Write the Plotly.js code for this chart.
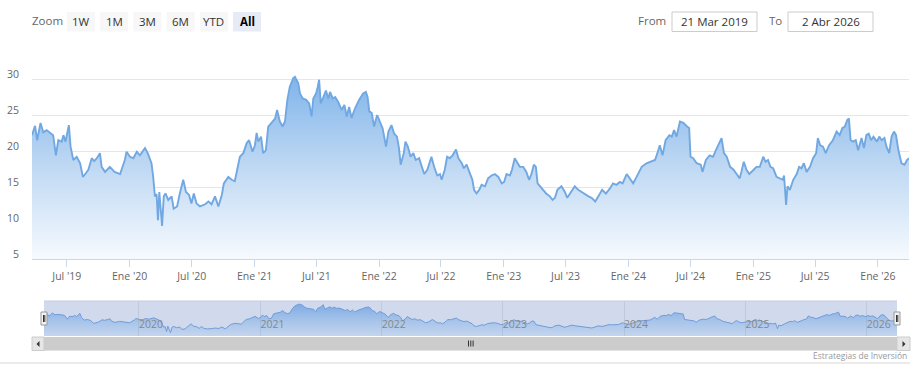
<!DOCTYPE html>
<html><head><meta charset="utf-8">
<script src="https://cdn.plot.ly/plotly-3.0.1.min.js"></script>
<style>html,body{margin:0;padding:0;background:#fff;}#chart{width:920px;height:379px;}</style>
</head><body><div id="chart"></div>
<script>
const dates = [
"2019-03-21","2019-03-30","2019-04-05","2019-04-15","2019-04-23","2019-05-03","2019-05-22","2019-05-30","2019-06-06","2019-06-16","2019-06-21","2019-06-27","2019-07-07","2019-07-12","2019-07-20","2019-07-30","2019-08-09","2019-08-17","2019-08-24","2019-09-02","2019-09-12","2019-09-19","2019-09-27","2019-10-06","2019-10-11","2019-10-21","2019-11-04","2019-11-18","2019-12-04","2019-12-18","2019-12-23",
"2020-01-02","2020-01-12","2020-01-22","2020-01-31","2020-02-15","2020-02-23","2020-02-29","2020-03-05","2020-03-10","2020-03-15","2020-03-20","2020-03-24","2020-03-28","2020-04-01","2020-04-05","2020-04-10","2020-04-15","2020-04-23","2020-05-03","2020-05-09","2020-05-19","2020-05-27","2020-06-06","2020-06-14","2020-06-23","2020-06-30","2020-07-07","2020-07-15","2020-07-25","2020-08-09","2020-08-19","2020-08-28","2020-09-07","2020-09-17","2020-09-27","2020-10-03","2020-10-16","2020-10-26","2020-11-04","2020-11-11","2020-11-19","2020-11-29","2020-12-09","2020-12-16","2020-12-26",
"2021-01-02","2021-01-07","2021-01-12","2021-01-20","2021-01-26","2021-02-03","2021-02-10","2021-02-20","2021-03-02","2021-03-08","2021-03-16","2021-03-24","2021-03-31","2021-04-07","2021-04-14","2021-04-24","2021-04-29","2021-05-09","2021-05-14","2021-05-22","2021-06-01","2021-06-10","2021-06-17","2021-06-22","2021-06-30","2021-07-05","2021-07-09","2021-07-14","2021-07-21","2021-07-29","2021-08-05","2021-08-10","2021-08-18","2021-08-25","2021-09-03","2021-09-13","2021-09-21","2021-09-28","2021-10-05","2021-10-12","2021-10-22","2021-11-03","2021-11-15","2021-11-23","2021-11-28","2021-12-03","2021-12-10","2021-12-17","2021-12-26",
"2022-01-03","2022-01-11","2022-01-21","2022-01-28","2022-02-06","2022-02-14","2022-02-22","2022-02-28","2022-03-05","2022-03-14","2022-03-19","2022-03-26","2022-04-03","2022-04-11","2022-04-18","2022-04-28","2022-05-06","2022-05-13","2022-05-22","2022-06-03","2022-06-11","2022-06-20","2022-06-28","2022-07-03","2022-07-12","2022-07-19","2022-07-27","2022-08-04","2022-08-14","2022-08-21","2022-08-31","2022-09-06","2022-09-14","2022-09-24","2022-10-01","2022-10-06","2022-10-13","2022-10-21","2022-10-28","2022-11-07","2022-11-16","2022-11-26","2022-12-06","2022-12-16","2022-12-26",
"2023-01-02","2023-01-09","2023-01-19","2023-01-25","2023-02-02","2023-02-10","2023-02-17","2023-02-27","2023-03-08","2023-03-16","2023-03-23","2023-03-30","2023-04-05","2023-04-10","2023-04-17","2023-04-27","2023-05-05","2023-05-16","2023-05-24","2023-05-31","2023-06-07","2023-06-19","2023-06-29","2023-07-06","2023-07-14","2023-07-28","2023-08-07","2023-08-22","2023-09-06","2023-09-15","2023-09-26","2023-10-05","2023-10-16","2023-10-27","2023-11-08","2023-11-17","2023-11-27","2023-12-07","2023-12-15","2023-12-27",
"2024-01-05","2024-01-15","2024-01-25","2024-02-09","2024-02-23","2024-03-08","2024-03-19","2024-03-26","2024-04-02","2024-04-10","2024-04-19","2024-04-30","2024-05-07","2024-05-14","2024-05-21","2024-05-31","2024-06-10","2024-06-21","2024-06-27","2024-07-01","2024-07-09","2024-07-19","2024-07-31","2024-08-05","2024-08-15","2024-08-26","2024-09-05","2024-09-13","2024-09-23","2024-09-30","2024-10-07","2024-10-15","2024-10-25","2024-11-04","2024-11-13","2024-11-22","2024-11-27","2024-12-04","2024-12-12","2024-12-20",
"2025-01-02","2025-01-10","2025-01-20","2025-01-30","2025-02-06","2025-02-13","2025-02-20","2025-02-28","2025-03-10","2025-03-20","2025-03-28","2025-04-01","2025-04-03","2025-04-07","2025-04-11","2025-04-18","2025-04-28","2025-05-08","2025-05-15","2025-05-22","2025-05-29","2025-06-06","2025-06-16","2025-06-25","2025-07-04","2025-07-09","2025-07-16","2025-07-24","2025-08-01","2025-08-11","2025-08-22","2025-09-02","2025-09-11","2025-09-19","2025-09-26","2025-10-03","2025-10-08","2025-10-13","2025-10-20","2025-10-28","2025-11-04","2025-11-14","2025-11-21","2025-11-28","2025-12-05","2025-12-12","2025-12-19","2025-12-29",
"2026-01-05","2026-01-12","2026-01-20","2026-01-26","2026-02-03","2026-02-10","2026-02-17","2026-02-23","2026-03-02","2026-03-11","2026-03-20","2026-03-27","2026-04-02"
];
const values = [
22.2,23.5,21.5,23.9,22.6,22.9,22.2,19.4,21.5,21.3,22.2,21.3,23.6,20.6,18.75,19.2,18.3,16.4,16.8,17.4,19.0,18.6,19.0,19.7,17.8,17.1,17.8,17.1,16.8,18.75,19.9,
19.2,19.0,19.9,19.4,20.4,19.7,18.75,18.3,16.4,13.7,14.0,10.4,14.3,12.3,9.6,13.7,14.1,13.2,13.7,12.0,12.3,14.1,16.0,14.3,13.9,12.7,14.1,12.7,12.3,12.6,13.0,12.6,13.7,12.3,13.9,15.5,16.4,16.0,15.8,17.4,19.2,19.7,21.1,21.5,19.9,
20.8,22.5,21.3,22.0,19.7,20.1,23.4,23.9,24.5,25.7,24.1,23.4,24.1,27.1,28.9,30.1,30.3,29.4,28.0,27.3,27.1,26.6,24.8,27.3,28.0,28.9,29.9,26.6,27.5,28.4,27.3,28.2,27.3,27.5,26.8,25.7,26.4,24.8,26.1,24.6,25.9,27.1,28.0,28.2,27.5,25.5,25.3,23.4,25.0,
24.1,23.15,20.6,22.7,23.6,22.4,22.0,20.4,18.1,19.7,21.3,20.6,19.2,19.7,18.75,19.0,17.8,16.8,17.4,19.2,17.8,16.6,16.8,16.0,17.4,19.2,19.0,19.4,20.2,19.0,18.3,17.6,18.1,16.8,16.0,14.6,14.1,14.6,15.3,15.1,16.2,16.6,16.8,16.4,15.5,
15.7,16.8,16.6,17.4,19.0,18.3,17.8,17.8,17.1,16.0,16.8,18.1,17.8,15.5,15.1,14.6,14.1,13.7,13.2,13.5,14.6,15.1,14.3,13.5,14.1,15.1,14.6,14.1,13.7,13.5,13.0,13.7,14.6,14.1,14.8,15.5,15.3,15.7,15.5,16.8,
16.2,15.5,16.4,17.8,18.3,18.5,18.75,19.7,20.8,19.4,21.5,22.2,22.0,22.9,22.0,24.1,23.9,23.4,23.2,19.2,19.0,18.3,18.1,17.1,18.75,19.4,19.2,20.1,21.1,21.8,19.7,19.2,17.8,17.4,16.8,16.2,17.1,18.5,17.4,16.8,
17.4,17.8,17.8,19.2,18.5,18.75,17.8,17.6,16.4,16.2,16.0,16.6,14.6,12.5,15.1,14.6,16.0,16.8,17.8,17.6,18.3,17.1,17.8,19.0,19.7,21.8,20.8,20.6,19.7,20.8,21.5,22.7,22.2,23.2,23.4,24.3,24.5,21.5,21.3,21.5,20.1,21.8,20.4,22.2,22.4,21.5,22.0,21.3,
22.0,21.5,21.8,20.6,19.7,22.0,22.7,22.2,20.1,18.3,18.1,18.75,19.0
];
const xTickVals = ["2019-07-01","2020-01-01","2020-07-01","2021-01-01","2021-07-01","2022-01-01","2022-07-01","2023-01-01","2023-07-01","2024-01-01","2024-07-01","2025-01-01","2025-07-01","2026-01-01"];
const xTickText = ["Jul '19","Ene '20","Jul '20","Ene '21","Jul '21","Ene '22","Jul '22","Ene '23","Jul '23","Ene '24","Jul '24","Ene '25","Jul '25","Ene '26"];
const yTickVals = [5,10,15,20,25,30,35];
const yTickText = ["5","10","15","20","25","30",""];
const navTickVals = ["2020-01-01","2021-01-01","2022-01-01","2023-01-01","2024-01-01","2025-01-01","2026-01-01"];
const navTickText = ["2020","2021","2022","2023","2024","2025","2026"];
const zoomLabel = "Zoom";
const zoomButtons = ["1W","1M","3M","6M","YTD","All"];
const fromLabel = "From", toLabel = "To", fromText = "21 Mar 2019", toText = "2 Abr 2026";
const creditText = "Estrategias de Inversión";
const xRange = ["2019-03-21","2026-04-02"];

const L=32, R=909, T=43, B=350;
const px = x => (x-L)/(R-L);
const py = y => (B-y)/(B-T);
const FONT = "Open Sans, DejaVu Sans, sans-serif";

const shapes = [];
const annotations = [];
function rect(x0,y0,x1,y1,fill,line,lw,layer){
  shapes.push({type:'rect',xref:'paper',yref:'paper',x0:px(x0),x1:px(x1),y0:py(y1),y1:py(y0),
    fillcolor:fill,line:{color:line||fill,width:lw===undefined?0:lw},layer:layer||'above'});
}
function seg(x0,y0,x1,y1,color,w,layer){
  shapes.push({type:'line',xref:'paper',yref:'paper',x0:px(x0),x1:px(x1),y0:py(y0),y1:py(y1),
    line:{color:color,width:w||1},layer:layer||'above'});
}
function text(t,x,y,opt){
  opt=opt||{};
  annotations.push({text:t,xref:'paper',yref:'paper',x:px(x),y:py(y),showarrow:false,
    xanchor:opt.xa||'center',yanchor:'middle',
    font:{family:FONT,size:opt.size||11.5,color:opt.color||'#333',weight:opt.weight||'normal'}});
}

// range selector
text(zoomLabel,47,21,{color:'#666'});
zoomButtons.forEach((b,i)=>{
  const x0 = 67 + i*33.2;
  const sel = b==='All';
  rect(x0,12,x0+28,31.5, sel?'#e6ebf5':'#f7f7f7', null, 0);
  text(sel?'<b>'+b+'</b>':b, x0+14, 21.5, {color: sel?'#000':'#333'});
});
text(fromLabel,652,21,{color:'#666',size:11.5});
rect(672,12,757,31.5,'#ffffff','#cccccc',1);
text(fromText,714.5,21.5,{color:'#333'});
text(toLabel,775,21,{color:'#666',size:11.5});
rect(788,12,873,31.5,'#ffffff','#cccccc',1);
text(toText,830.5,21.5,{color:'#333'});

// navigator background (mask) below traces
rect(44,301,897,336,'rgb(209,218,237)',null,0,'below');
seg(44,301,897,301,'rgb(196,205,224)',1);
// handles
[[41,47],[894,900]].forEach(h=>{
  rect(h[0],312,h[1],325,'#f2f2f2','#999999',1);
  seg(h[0]+2.5,315,h[0]+2.5,322,'#333',1);
  seg(h[0]+3.8,315,h[0]+3.8,322,'#333',1);
});
// scrollbar
rect(32,337,910,350.5,'#f2f2f2',null,0);
rect(44,337,897,350.5,'#cccccc',null,0);
rect(32,337,44,350.5,'#e6e6e6','#cccccc',1);
rect(897,337,910,350.5,'#e6e6e6','#cccccc',1);
shapes.push({type:'path',xref:'paper',yref:'paper',path:`M ${px(36.5)} ${py(344)} L ${px(39.5)} ${py(341)} L ${px(39.5)} ${py(347)} Z`,fillcolor:'#333',line:{width:0}});
shapes.push({type:'path',xref:'paper',yref:'paper',path:`M ${px(905.5)} ${py(344)} L ${px(902.5)} ${py(341)} L ${px(902.5)} ${py(347)} Z`,fillcolor:'#333',line:{width:0}});
[468.5,470.8,473.1].forEach(x=>seg(x,340.5,x,346.5,'#333',1));
// bottom separator and credit
seg(0,363,910,363,'#d8d8d8',1);
text(creditText,909,355,{xa:'right',size:8.5,color:'#999'});

const main = {
  x: dates, y: values, type:'scatter', mode:'lines', xaxis:'x', yaxis:'y',
  line:{color:'rgb(114,168,226)', width:1.9},
  fill:'tozeroy',
  fillgradient:{type:'vertical', start:5, stop:31,
    colorscale:[[0,'rgb(246,250,254)'],[0.5,'rgb(190,216,243)'],[1,'rgb(124,178,234)']]},
  hoverinfo:'skip'
};
const nav = {
  x: dates, y: values, type:'scatter', mode:'lines', xaxis:'x2', yaxis:'y2',
  line:{color:'rgb(112,156,218)', width:1},
  fill:'tozeroy',
  fillgradient:{type:'vertical', start:7.2, stop:31,
    colorscale:[[0,'rgba(124,178,234,0.15)'],[1,'rgba(110,160,225,0.85)']]},
  hoverinfo:'skip'
};

const layout = {
  width:920, height:379,
  margin:{l:L, r:920-R, t:T, b:379-B, pad:0},
  paper_bgcolor:'#ffffff', plot_bgcolor:'rgba(0,0,0,0)',
  showlegend:false, hovermode:false,
  xaxis:{type:'date', range:xRange, domain:[0,1], anchor:'y',
    tickmode:'array', tickvals:xTickVals, ticktext:xTickText,
    ticks:'outside', ticklen:7, tickcolor:'#ccd6eb', tickwidth:1,
    showline:true, linecolor:'#ccd6eb', linewidth:1, showgrid:false, zeroline:false,
    tickfont:{family:FONT, size:10.5, color:'#666'}, fixedrange:true},
  yaxis:{range:[5,35], domain:[py(259),1], anchor:'x',
    tickmode:'array', tickvals:yTickVals, ticktext:yTickText,
    showgrid:true, gridcolor:'#e6e6e6', gridwidth:1, zeroline:false, showline:false, ticks:'',
    ticklabelstandoff:12, ticklabelshift:-5,
    tickfont:{family:FONT, size:10.5, color:'#666'}, fixedrange:true},
  xaxis2:{type:'date', range:xRange, domain:[px(44),px(897)], anchor:'y2',
    tickmode:'array', tickvals:navTickVals, ticktext:navTickText,
    ticklabelposition:'inside right', ticks:'', showline:false,
    showgrid:true, gridcolor:'rgb(192,201,219)', gridwidth:1, zeroline:false,
    tickfont:{family:FONT, size:10.5, color:'#888'}, fixedrange:true},
  yaxis2:{range:[7.2,32.6], domain:[py(336),py(301)], anchor:'x2',
    showgrid:false, zeroline:false, showticklabels:false, ticks:'', showline:false, fixedrange:true},
  shapes:shapes, annotations:annotations
};
Plotly.newPlot('chart',[main,nav],layout,{displayModeBar:false, staticPlot:true});
</script></body></html>
